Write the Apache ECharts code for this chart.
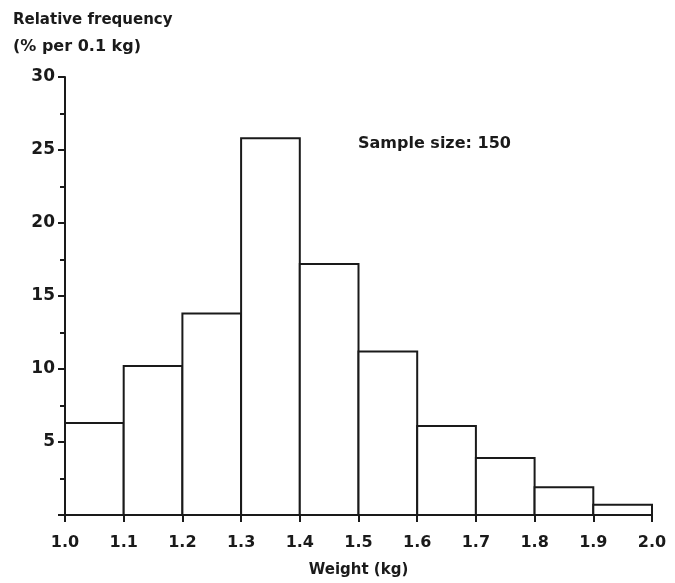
<!DOCTYPE html>
<html>
<head>
<meta charset="utf-8">
<script src="https://cdn.jsdelivr.net/npm/echarts@6/dist/echarts.min.js"></script>
<style>
  * { margin: 0; padding: 0; }
  body { background: #fff; }
</style>
</head>
<body>
<!-- chart container -->
<div id="main" style="width: 675px;height: 583px;"></div>
<script>
  // bin edges (kg) and relative frequency (% per 0.1 kg)
  var binStart = [1.0, 1.1, 1.2, 1.3, 1.4, 1.5, 1.6, 1.7, 1.8, 1.9];
  var binEnd = [1.1, 1.2, 1.3, 1.4, 1.5, 1.6, 1.7, 1.8, 1.9, 2.0];
  var freq = [6.3, 10.2, 13.8, 25.8, 17.2, 11.2, 6.1, 3.9, 1.9, 0.7];
  var yTicks = [5, 10, 15, 20, 25, 30];

  var bins = binStart.map(function (s, i) { return [s, binEnd[i], freq[i]]; });
  var fontFam = '"DejaVu Sans", sans-serif';
  var ink = '#1a1a1a';

  var mycharts = echarts.init(document.getElementById('main'));
  var option = {
    backgroundColor: '#fff',
    animation: false,
    grid: { left: 65, right: 23, top: 77, bottom: 67 },
    graphic: [
      { type: 'text', left: 13, top: 13,
        style: { text: 'Relative frequency', font: 'bold 15px ' + fontFam, fill: ink } },
      { type: 'text', left: 13, top: 39,
        style: { text: '(% per 0.1 kg)', font: 'bold 16px ' + fontFam, fill: ink } },
      { type: 'text', left: 358, top: 136,
        style: { text: 'Sample size: 150', font: 'bold 16px ' + fontFam, fill: ink } }
    ],
    xAxis: {
      type: 'value',
      min: 1.0, max: 2.0, interval: 0.1,
      name: 'Weight (kg)',
      nameLocation: 'middle',
      nameGap: 48,
      nameTextStyle: { color: ink, fontFamily: fontFam, fontWeight: 'bold', fontSize: 15 },
      axisLine: { show: true, lineStyle: { color: ink, width: 2 } },
      axisTick: { show: true, length: 7, lineStyle: { color: ink, width: 2 } },
      axisLabel: {
        color: ink, fontFamily: fontFam, fontWeight: 'bold', fontSize: 16, margin: 20,
        formatter: function (v) { return v.toFixed(1); }
      },
      splitLine: { show: false }
    },
    yAxis: {
      type: 'value',
      min: 0, max: 30, interval: 5,
      axisLine: { show: true, lineStyle: { color: ink, width: 2 } },
      axisTick: { show: true, length: 7, lineStyle: { color: ink, width: 2 } },
      minorTick: { show: true, splitNumber: 2, length: 5, lineStyle: { color: ink, width: 2 } },
      axisLabel: {
        color: ink, fontFamily: fontFam, fontWeight: 'bold', fontSize: 17, margin: 10,
        formatter: function (v) { return yTicks.indexOf(v) >= 0 ? String(v) : ''; }
      },
      splitLine: { show: false }
    },
    series: [{
      type: 'custom',
      data: bins,
      encode: { x: [0, 1], y: 2 },
      renderItem: function (params, api) {
        var p0 = api.coord([api.value(0), api.value(2)]);
        var p1 = api.coord([api.value(1), 0]);
        return {
          type: 'rect',
          shape: { x: p0[0], y: p0[1], width: p1[0] - p0[0], height: p1[1] - p0[1] },
          style: { fill: '#fff', stroke: ink, lineWidth: 2 }
        };
      }
    }]
  };
  mycharts.setOption(option);
</script>
</body>
</html>
